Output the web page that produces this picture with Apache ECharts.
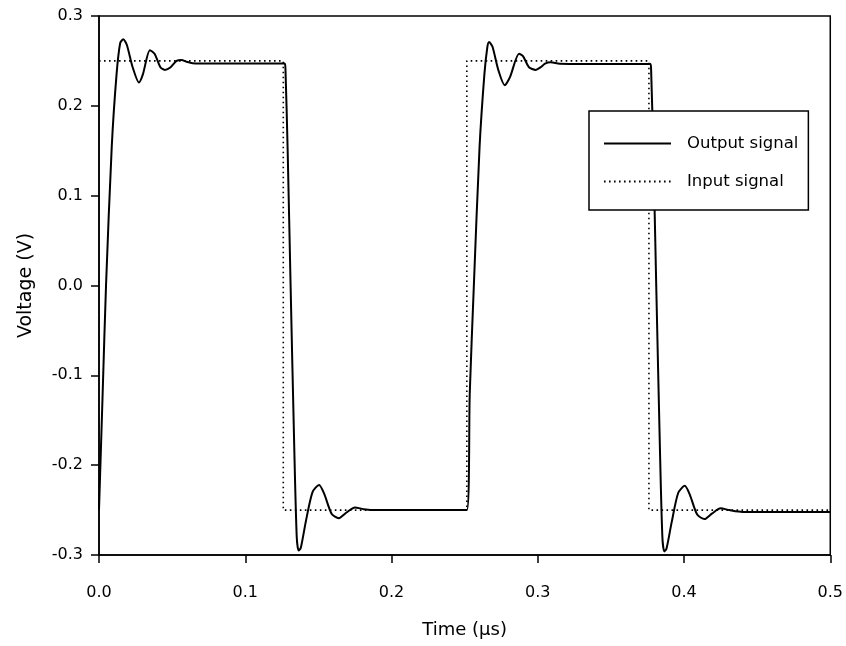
<!DOCTYPE html>
<html>
<head>
<meta charset="utf-8">
<script src="https://cdn.jsdelivr.net/npm/echarts@6/dist/echarts.min.js"></script>
<style>
  html, body { margin: 0; padding: 0; background: #fff; }
  #chart { width: 846px; height: 646px; }
</style>
</head>
<body>
<div id="chart"></div>
<script>
// Time samples (µs) and simulated output voltage (V)
const outputTime = [
  0, 0.0025, 0.0048, 0.0087, 0.012, 0.0145, 0.0166, 0.019, 0.023, 0.0273,
  0.030, 0.0348, 0.038, 0.042, 0.045, 0.049, 0.053, 0.0564, 0.060, 0.064,
  0.075, 0.100, 0.127,
  0.1275, 0.129, 0.131, 0.1335, 0.1352, 0.1365, 0.138, 0.1415, 0.146, 0.1505,
  0.154, 0.159, 0.164, 0.169, 0.175, 0.181, 0.190, 0.220, 0.2515,
  0.2535, 0.2563, 0.2602, 0.2635, 0.2655, 0.2667, 0.269, 0.273, 0.2774,
  0.281, 0.2872, 0.290, 0.294, 0.2986, 0.302, 0.305, 0.3088, 0.315,
  0.340, 0.377,
  0.3775, 0.379, 0.381, 0.3835, 0.3852, 0.3865, 0.388, 0.3915, 0.396, 0.4005,
  0.404, 0.409, 0.414, 0.419, 0.425, 0.431, 0.440, 0.470, 0.500
];
const outputVolt = [
  -0.25, -0.12, 0.0, 0.154, 0.235, 0.27, 0.274, 0.268, 0.243, 0.226,
  0.235, 0.262, 0.258, 0.243, 0.240, 0.243, 0.250, 0.251, 0.249, 0.2475,
  0.247, 0.247, 0.247,
  0.24, 0.15, 0.0, -0.18, -0.28, -0.295, -0.292, -0.262, -0.23, -0.222,
  -0.232, -0.254, -0.259, -0.253, -0.247, -0.249, -0.25, -0.25, -0.25,
  -0.12, 0.0, 0.154, 0.235, 0.265, 0.271, 0.266, 0.240, 0.223,
  0.232, 0.258, 0.255, 0.243, 0.240, 0.243, 0.247, 0.2485, 0.2468,
  0.2465, 0.2465,
  0.24, 0.15, 0.0, -0.18, -0.28, -0.296, -0.293, -0.264, -0.231, -0.223,
  -0.233, -0.255, -0.260, -0.254, -0.248, -0.250, -0.252, -0.252, -0.252
];

// Square-wave input: switching instants (µs) and levels (V)
const inputTime = [0, 0.126, 0.126, 0.2515, 0.2515, 0.376, 0.376, 0.5];
const inputVolt = [0.25, 0.25, -0.25, -0.25, 0.25, 0.25, -0.25, -0.25];

// Axis ticks
const xTicks = [0.0, 0.1, 0.2, 0.3, 0.4, 0.5];
const yTicks = [-0.3, -0.2, -0.1, 0.0, 0.1, 0.2, 0.3];

const zip = (a, b) => a.map((v, i) => [v, b[i]]);

const chart = echarts.init(document.getElementById('chart'), null, { renderer: 'canvas' });
const font = 'DejaVu Sans';

chart.setOption({
  backgroundColor: '#ffffff',
  animation: false,
  grid: {
    left: 99, right: 14, top: 16, bottom: 91,
    show: true, borderColor: '#000', borderWidth: 1.5, backgroundColor: 'transparent'
  },
  legend: {
    orient: 'vertical',
    left: 589, top: 111,
    padding: [24, 10, 20, 14],
    itemWidth: 67, itemHeight: 14, itemGap: 21,
    backgroundColor: '#fff',
    borderColor: '#000', borderWidth: 1.5, borderRadius: 0,
    itemStyle: { opacity: 0 },
    textStyle: { fontFamily: font, fontSize: 16.5, color: '#000', padding: [0, 0, 0, 11] },
    data: ['Output signal', 'Input signal']
  },
  xAxis: {
    type: 'value',
    min: 0, max: 0.5, interval: 0.1,
    name: 'Time (µs)', nameLocation: 'middle', nameGap: 66,
    nameTextStyle: { fontFamily: font, fontSize: 18, color: '#000' },
    axisLine: { show: true, onZero: false, lineStyle: { color: '#000', width: 1.5 } },
    axisTick: { show: true, inside: false, length: 8, lineStyle: { color: '#000', width: 1.5 } },
    axisLabel: {
      fontFamily: font, fontSize: 16, color: '#000', margin: 30,
      formatter: v => xTicks.find(t => Math.abs(t - v) < 1e-9).toFixed(1)
    },
    splitLine: { show: false }
  },
  yAxis: {
    type: 'value',
    min: -0.3, max: 0.3, interval: 0.1,
    name: 'Voltage (V)', nameLocation: 'middle', nameGap: 63,
    nameTextStyle: { fontFamily: font, fontSize: 19, color: '#000' },
    axisLine: { show: true, onZero: false, lineStyle: { color: '#000', width: 1.5 } },
    axisTick: { show: true, inside: false, length: 8, lineStyle: { color: '#000', width: 1.5 } },
    axisLabel: {
      fontFamily: font, fontSize: 16, color: '#000', margin: 16,
      formatter: v => yTicks.find(t => Math.abs(t - v) < 1e-9).toFixed(1)
    },
    splitLine: { show: false }
  },
  series: [
    {
      name: 'Output signal',
      type: 'line',
      data: zip(outputTime, outputVolt),
      symbol: 'none',
      smooth: 0.25,
      lineStyle: { color: '#000', width: 2 },
      itemStyle: { color: '#000' },
      z: 3
    },
    {
      name: 'Input signal',
      type: 'line',
      data: zip(inputTime, inputVolt),
      symbol: 'none',
      lineStyle: { color: '#000', width: 1.6, type: [1.6, 3.4] },
      itemStyle: { color: '#000' },
      z: 2
    }
  ]
});
</script>
</body>
</html>
